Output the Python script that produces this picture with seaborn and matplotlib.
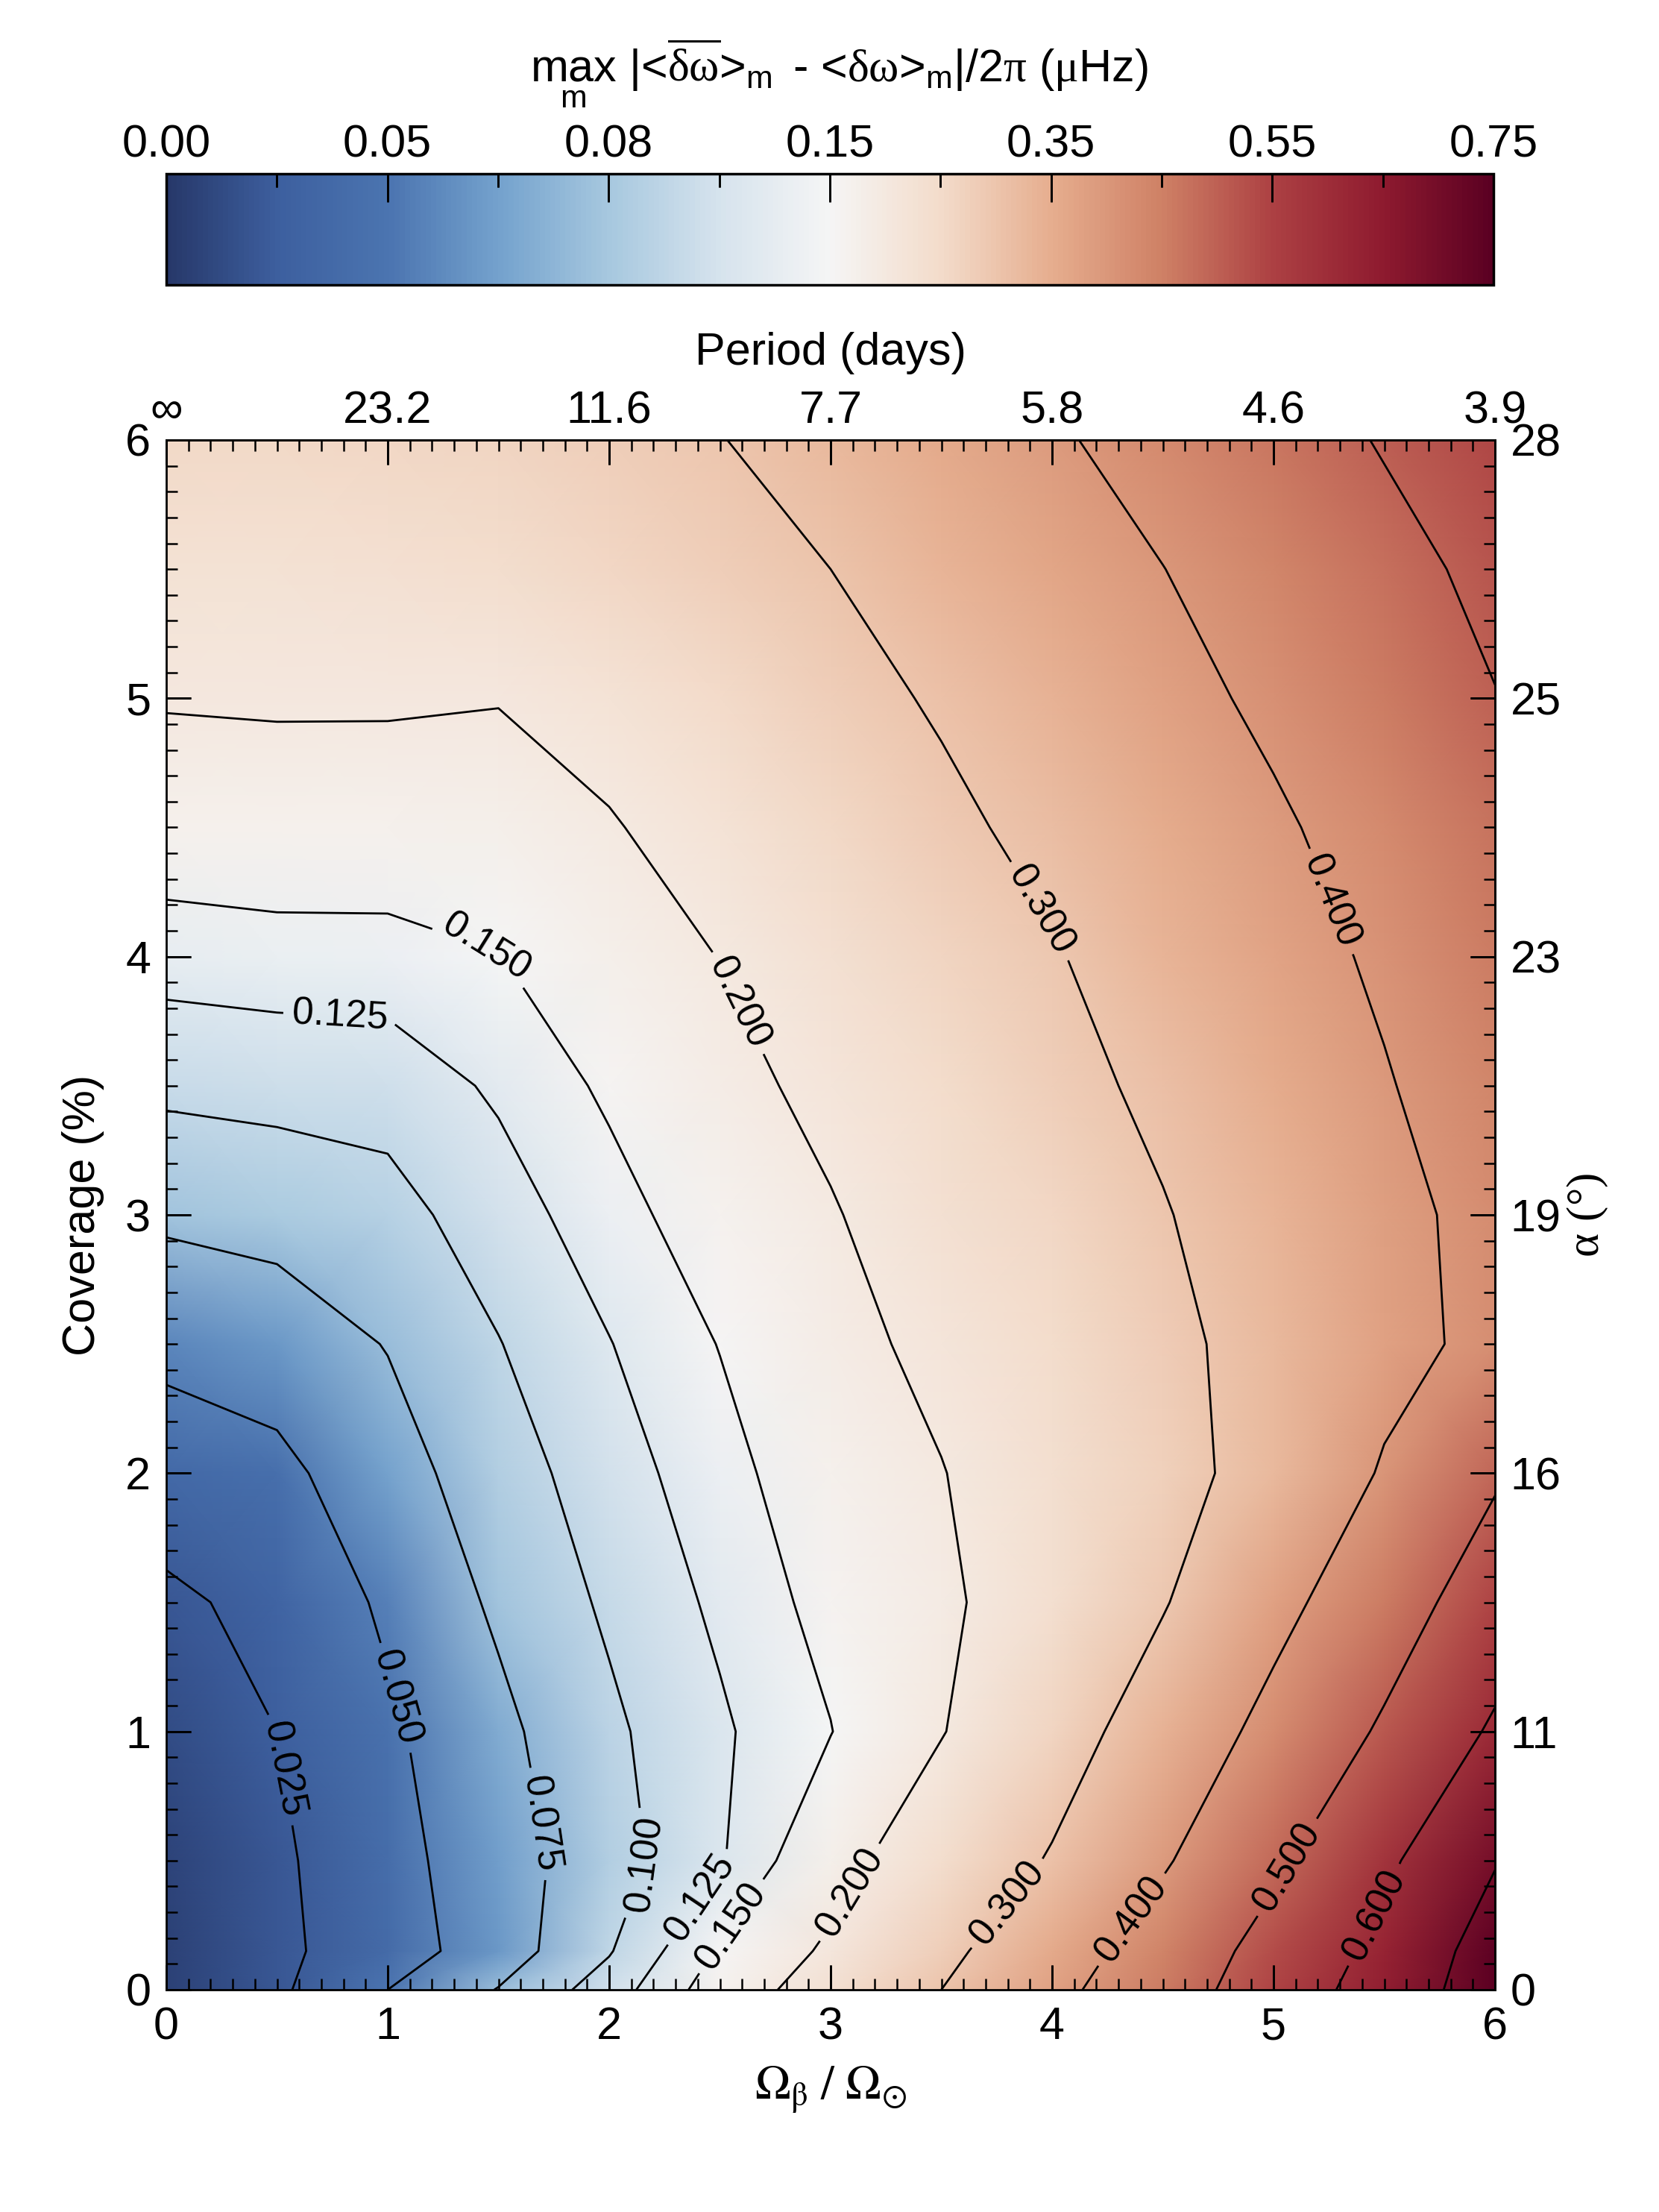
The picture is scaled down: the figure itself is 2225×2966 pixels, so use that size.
import numpy as np
import matplotlib
matplotlib.use("Agg")
import matplotlib.pyplot as plt
from matplotlib.colors import FuncNorm
from matplotlib.lines import Line2D
from matplotlib.ticker import MultipleLocator, FixedLocator
from matplotlib.transforms import blended_transform_factory as blend
import seaborn as sns

# grid: columns are Omega_beta / Omega_sun, rows are coverage (%)
omega_ratio = [0.0, 0.5, 1.0, 1.5, 2.0, 2.5, 3.0, 3.5, 4.0, 4.5, 5.0, 5.5, 6.0]
coverage = [0.0, 0.15, 0.5, 1.0, 1.5, 2.0, 2.5, 3.0, 3.5, 4.0, 4.5, 5.0, 5.5, 6.0]

dnu_cov0_00 = [0.006, 0.021, 0.050, 0.076, 0.112, 0.165, 0.232, 0.300, 0.378, 0.458, 0.545, 0.642, 0.750]
dnu_cov0_15 = [0.006, 0.020, 0.039, 0.062, 0.098, 0.153, 0.209, 0.281, 0.357, 0.442, 0.531, 0.624, 0.742]
dnu_cov0_50 = [0.008, 0.021, 0.042, 0.064, 0.089, 0.122, 0.177, 0.243, 0.306, 0.391, 0.484, 0.583, 0.695]
dnu_cov1_00 = [0.013, 0.025, 0.046, 0.069, 0.095, 0.121, 0.149, 0.197, 0.264, 0.340, 0.425, 0.511, 0.612]
dnu_cov1_50 = [0.021, 0.031, 0.054, 0.079, 0.104, 0.130, 0.160, 0.189, 0.237, 0.295, 0.375, 0.457, 0.547]
dnu_cov2_00 = [0.037, 0.044, 0.065, 0.088, 0.113, 0.140, 0.170, 0.198, 0.237, 0.275, 0.328, 0.407, 0.490]
dnu_cov2_50 = [0.056, 0.062, 0.076, 0.099, 0.124, 0.151, 0.183, 0.214, 0.248, 0.283, 0.326, 0.376, 0.420]
dnu_cov3_00 = [0.079, 0.083, 0.091, 0.113, 0.139, 0.167, 0.196, 0.231, 0.262, 0.296, 0.337, 0.380, 0.422]
dnu_cov3_50 = [0.105, 0.108, 0.110, 0.129, 0.155, 0.184, 0.214, 0.248, 0.279, 0.314, 0.355, 0.395, 0.440]
dnu_cov4_00 = [0.135, 0.138, 0.139, 0.149, 0.175, 0.201, 0.234, 0.266, 0.295, 0.333, 0.371, 0.411, 0.455]
dnu_cov4_50 = [0.169, 0.173, 0.172, 0.176, 0.196, 0.224, 0.256, 0.286, 0.318, 0.354, 0.390, 0.430, 0.470]
dnu_cov5_00 = [0.204, 0.206, 0.206, 0.202, 0.221, 0.249, 0.278, 0.307, 0.342, 0.377, 0.414, 0.456, 0.498]
dnu_cov5_50 = [0.228, 0.229, 0.232, 0.240, 0.258, 0.279, 0.300, 0.333, 0.366, 0.399, 0.438, 0.478, 0.517]
dnu_cov6_00 = [0.255, 0.256, 0.260, 0.267, 0.280, 0.298, 0.328, 0.360, 0.391, 0.428, 0.466, 0.505, 0.543]

contour_levels = [0.025, 0.050, 0.075, 0.100, 0.125, 0.150, 0.200, 0.300, 0.400, 0.500, 0.600, 0.700]
cbar_ticks = [0.00, 0.05, 0.08, 0.15, 0.35, 0.55, 0.75]
axis_ticks = [0, 1, 2, 3, 4, 5, 6]
period_labels = ['∞', '23.2', '11.6', '7.7', '5.8', '4.6', '3.9']
alpha_labels = ['0', '11', '16', '19', '23', '25', '28']

# where the contour labels sit (data coords)
label_spots = [(0.57, 0.86), (1.075, 1.14), (1.74, 0.65), (2.18, 0.48), (2.37, 0.38),
               (2.51, 0.27), (3.10, 0.37), (3.79, 0.34), (4.33, 0.29), (5.05, 0.48),
               (5.39, 0.32), (0.785, 3.77), (1.47, 4.10), (2.63, 3.84), (3.99, 4.20),
               (5.28, 4.22)]

cmap_colors = ['#27386a', '#3d5f9f', '#4b74b0', '#74a2cd', '#a7c8df', '#d6e3ed', '#f5f5f5',
               '#f3dccb', '#e6ae8f', '#cf8166', '#ad4143', '#8f1b2f', '#5b0022']

sns.set_style('ticks', rc={'axes.edgecolor': 'black', 'xtick.color': 'black',
                           'ytick.color': 'black', 'text.color': 'black',
                           'axes.labelcolor': 'black'})
rc = plt.rcParams
rc['font.family'] = ['Liberation Sans', 'DejaVu Sans']
rc['axes.axisbelow'] = False
rc['mathtext.fontset'] = 'custom'
rc['mathtext.rm'] = 'Liberation Sans'
rc['mathtext.it'] = 'Liberation Sans:italic'
rc['mathtext.bf'] = 'Liberation Sans:bold'
rc['mathtext.sf'] = 'Liberation Serif'   # greek letters in a serif face
rc['font.size'] = 44
for a in ('xtick', 'ytick'):
    rc[a + '.direction'] = 'in'
    rc[a + '.major.size'] = 24
    rc[a + '.minor.size'] = 11
    rc[a + '.major.width'] = 2.0
    rc[a + '.minor.width'] = 1.8
    rc[a + '.labelsize'] = 44
rc['xtick.major.pad'] = 16
rc['xtick.minor.pad'] = 16
rc['ytick.major.pad'] = 15
rc['ytick.minor.pad'] = 15

W, H = 2225, 2966
fig = plt.figure(figsize=(W / 100, H / 100), dpi=100)
fig.patch.set_facecolor('white')

ax = fig.add_axes([223 / W, 1 - 2668 / H, (2005 - 223) / W, (2668 - 590) / H])

cmap = sns.blend_palette(cmap_colors, as_cmap=True)
cb_pos = np.linspace(0, 1, len(cbar_ticks))
norm = FuncNorm((lambda v: np.interp(v, cbar_ticks, cb_pos),
                 lambda u: np.interp(u, cb_pos, cbar_ticks)), vmin=0.0, vmax=0.75)

X, Y = np.meshgrid(omega_ratio, coverage)
Z = np.array([dnu_cov0_00, dnu_cov0_15, dnu_cov0_50, dnu_cov1_00, dnu_cov1_50, dnu_cov2_00,
              dnu_cov2_50, dnu_cov3_00, dnu_cov3_50, dnu_cov4_00, dnu_cov4_50, dnu_cov5_00,
              dnu_cov5_50, dnu_cov6_00])

mesh = ax.pcolormesh(X, Y, Z, shading='gouraud', cmap=cmap, norm=norm, zorder=0.2)
cs = ax.contour(X, Y, Z, levels=contour_levels, colors='black', linewidths=2.0, zorder=0.4)
ax.set_xlim(0, 6)
ax.set_ylim(0, 6)
ax.clabel(cs, levels=contour_levels[:-1], manual=label_spots, fmt='%.3f',
          fontsize=37, inline=True, inline_spacing=12)

# bottom / left axes
ax.set_xticks(axis_ticks)
ax.set_yticks(axis_ticks)
ax.xaxis.set_minor_locator(MultipleLocator(0.1))
ax.yaxis.set_minor_locator(MultipleLocator(0.1))
for sp in ax.spines.values():
    sp.set_linewidth(2)
ax.set_xlabel(r'$\Omega_{\mathrm{\beta}}\ /\ \Omega_{\odot}$', math_fontfamily='stix',
              fontsize=46, labelpad=15)
ax.set_ylabel('Coverage (%)', labelpad=20)

# period axis on top
secx = ax.secondary_xaxis('top')
secx.set_zorder(5)
secx.set_xticks(axis_ticks, labels=period_labels)
secx.xaxis.set_minor_locator(MultipleLocator(0.1))
secx.xaxis.set_tick_params(which='both', pad=7)
secx.spines['top'].set_linewidth(2)
secx.set_xlabel('Period (days)', labelpad=25)

# spot latitude axis on the right
secy = ax.secondary_yaxis('right')
secy.set_zorder(5)
secy.set_yticks(axis_ticks, labels=alpha_labels)
secy.yaxis.set_minor_locator(MultipleLocator(0.1))
secy.spines['right'].set_linewidth(2)
secy.set_ylabel(r'$\mathsf{α\ (°)}$', labelpad=4)

# colour bar on top
cax = fig.add_axes([223 / W, 1 - 382 / H, (2003 - 223) / W, (382 - 233) / H])
cb = fig.colorbar(mesh, cax=cax, orientation='horizontal', ticklocation='top')
cb.solids.set_rasterized(False)
cb.set_ticks(cbar_ticks, labels=[f'{t:.2f}' for t in cbar_ticks])
cb_minor = np.interp((cb_pos[:-1] + cb_pos[1:]) / 2, cb_pos, cbar_ticks)
cb.ax.xaxis.set_minor_locator(FixedLocator(cb_minor))
cax.tick_params(which='major', length=27)
cax.tick_params(which='minor', length=13)
cax.xaxis.set_tick_params(which='both', pad=7)
cb.outline.set_linewidth(2.5)

# tick marks again as figure-level lines so they always sit above the shading
tick_kw = dict(color='black', lw=2.0, zorder=10, solid_capstyle='butt')
len_x = 33 / (2668 - 590)
len_y = 33 / (2005 - 223)
tx = blend(ax.transData, ax.transAxes)
ty = blend(ax.transAxes, ax.transData)
for t in axis_ticks:
    fig.add_artist(Line2D([t, t], [0, len_x], transform=tx, **tick_kw))
    fig.add_artist(Line2D([t, t], [1, 1 - len_x], transform=tx, **tick_kw))
    fig.add_artist(Line2D([0, len_y], [t, t], transform=ty, **tick_kw))
    fig.add_artist(Line2D([1, 1 - len_y], [t, t], transform=ty, **tick_kw))
tc = blend(cax.transData, cax.transAxes)
for t in cbar_ticks[1:-1]:
    fig.add_artist(Line2D([t, t], [1, 1 - 37 / 149], transform=tc, **tick_kw))
for t in cb_minor:
    fig.add_artist(Line2D([t, t], [1, 1 - 18 / 149], transform=tc, **tick_kw))

title = (r'$\max_{\mathrm{m}}$ |<$\overline{\mathsf{δω}}$>$_{\mathrm{m}}$'
         r' - <$\mathsf{δω}$>$_{\mathrm{m}}$|/2$\mathsf{π}$ ($\mathsf{μ}$Hz)')
fig.text(1125 / W, 1 - 109 / H, title, ha='center', va='baseline', fontsize=44)

fig.canvas.draw()
fig.savefig('out.png', dpi=100)
